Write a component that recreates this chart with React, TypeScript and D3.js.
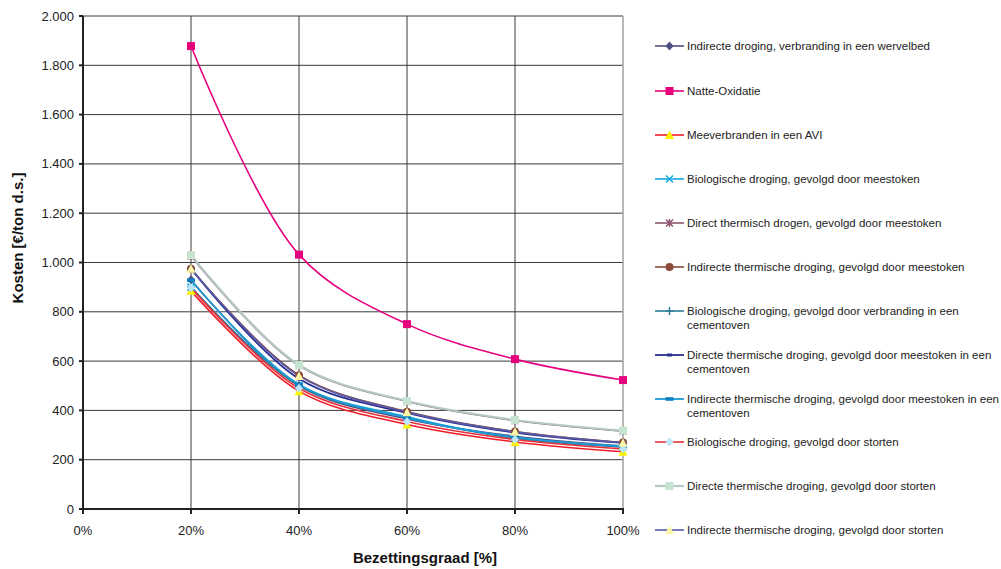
import React from "react";
import * as d3 from "d3";

const xValues = [20, 40, 60, 80, 100];
const xTicks = [0, 20, 40, 60, 80, 100];
const yTicks = [0, 200, 400, 600, 800, 1000, 1200, 1400, 1600, 1800, 2000];

const seriesNames = [
  "Indirecte droging, verbranding in een wervelbed",
  "Natte-Oxidatie",
  "Meeverbranden in een AVI",
  "Biologische droging, gevolgd door meestoken",
  "Direct thermisch drogen, gevolgd door meestoken",
  "Indirecte thermische droging, gevolgd door meestoken",
  "Biologische droging, gevolgd door verbranding in een cementoven",
  "Directe thermische droging, gevolgd door meestoken in een cementoven",
  "Indirecte thermische droging, gevolgd door meestoken in een cementoven",
  "Biologische droging, gevolgd door storten",
  "Directe thermische droging, gevolgd door storten",
  "Indirecte thermische droging, gevolgd door storten",
];

const s1 = [930, 500, 365, 295, 255];
const s2 = [1878, 1032, 750, 608, 523];
const s3 = [885, 478, 343, 272, 232];
const s4 = [900, 503, 374, 288, 253];
const s5 = [1026, 582, 436, 359, 316];
const s6 = [975, 543, 395, 314, 270];
const s7 = [900, 500, 370, 287, 252];
const s8 = [975, 528, 390, 310, 268];
const s9 = [928, 505, 370, 292, 255];
const s10 = [898, 490, 355, 282, 244];
const s11 = [1030, 584, 438, 361, 318];
const s12 = [975, 540, 393, 313, 269];

const seriesValues = [s1, s2, s3, s4, s5, s6, s7, s8, s9, s10, s11, s12];

type Style = { line: string; marker: string; mFill: string; mStroke: string; width: number };
const styles: Style[] = [
  { line: "#4E4E80", marker: "diamond", mFill: "#4E4E80", mStroke: "#4E4E80", width: 1.6 },
  { line: "#E6007E", marker: "square", mFill: "#E6007E", mStroke: "#E6007E", width: 1.6 },
  { line: "#F01E28", marker: "triangle", mFill: "#FFF200", mStroke: "#FFF200", width: 1.6 },
  { line: "#14A8E0", marker: "x", mFill: "none", mStroke: "#14A8E0", width: 1.6 },
  { line: "#8C5670", marker: "star", mFill: "none", mStroke: "#8C5670", width: 1.6 },
  { line: "#8A4B3A", marker: "circle", mFill: "#8A4B3A", mStroke: "#8A4B3A", width: 1.6 },
  { line: "#2E7C9A", marker: "plus", mFill: "none", mStroke: "#2E7C9A", width: 1.6 },
  { line: "#2A2F8F", marker: "dash", mFill: "#2A2F8F", mStroke: "#2A2F8F", width: 1.8 },
  { line: "#1E9BD7", marker: "bar", mFill: "#0E7FC0", mStroke: "#0E7FC0", width: 1.8 },
  { line: "#E8303A", marker: "diamond", mFill: "#BDE6F8", mStroke: "#BDE6F8", width: 1.6 },
  { line: "#B4C8C6", marker: "square", mFill: "#C6E4D0", mStroke: "#C6E4D0", width: 2.2 },
  { line: "#5A5AA8", marker: "triangle", mFill: "#FFF7A8", mStroke: "#FFF7A8", width: 1.6 },
];

function Marker({ kind, x, y, fill, stroke }: { kind: string; x: number; y: number; fill: string; stroke: string }) {
  const r = 4;
  switch (kind) {
    case "diamond":
      return <path d={`M${x},${y - r - 0.5}L${x + r},${y}L${x},${y + r + 0.5}L${x - r},${y}Z`} fill={fill} />;
    case "square":
      return <rect x={x - 4} y={y - 4} width={8} height={8} fill={fill} />;
    case "triangle":
      return <path d={`M${x},${y - 4.5}L${x + 4.5},${y + 4}L${x - 4.5},${y + 4}Z`} fill={fill} />;
    case "circle":
      return <circle cx={x} cy={y} r={4} fill={fill} />;
    case "x":
      return <path d={`M${x - 3.5},${y - 3.5}L${x + 3.5},${y + 3.5}M${x + 3.5},${y - 3.5}L${x - 3.5},${y + 3.5}`} stroke={stroke} strokeWidth={1.5} />;
    case "star":
      return <path d={`M${x - 3.5},${y - 3.5}L${x + 3.5},${y + 3.5}M${x + 3.5},${y - 3.5}L${x - 3.5},${y + 3.5}M${x},${y - 4}L${x},${y + 4}`} stroke={stroke} strokeWidth={1.5} />;
    case "plus":
      return <path d={`M${x},${y - 4}L${x},${y + 4}M${x - 4},${y}L${x + 4},${y}`} stroke={stroke} strokeWidth={1.5} />;
    case "dash":
      return <rect x={x - 2.5} y={y - 1.5} width={5} height={3} fill={fill} />;
    case "bar":
      return <rect x={x - 4} y={y - 1.8} width={8} height={3.6} fill={fill} />;
    default:
      return null;
  }
}

export default function App() {
  const W = 1001, H = 569;
  const left = 83, right = 623, top = 16, bottom = 509;
  const x = d3.scaleLinear().domain([0, 100]).range([left, right]);
  const y = d3.scaleLinear().domain([0, 2000]).range([bottom, top]);
  const line = d3
    .line<number>()
    .x((_, i) => x(xValues[i]))
    .y((d) => y(d))
    .curve(d3.curveCatmullRom.alpha(0.5));

  const legendX1 = 655, legendX2 = 684, legendTextX = 687;
  const legendRows = [46, 91, 135, 179, 223, 267, 311, 355, 399, 442, 486, 530];
  const legendLines: string[][] = [
    ["Indirecte droging, verbranding in een wervelbed"],
    ["Natte-Oxidatie"],
    ["Meeverbranden in een AVI"],
    ["Biologische droging, gevolgd door meestoken"],
    ["Direct thermisch drogen, gevolgd door meestoken"],
    ["Indirecte thermische droging, gevolgd door meestoken"],
    ["Biologische droging, gevolgd door verbranding in een", "cementoven"],
    ["Directe thermische droging, gevolgd door meestoken in een", "cementoven"],
    ["Indirecte thermische droging, gevolgd door meestoken in een", "cementoven"],
    ["Biologische droging, gevolgd door storten"],
    ["Directe thermische droging, gevolgd door storten"],
    ["Indirecte thermische droging, gevolgd door storten"],
  ];

  const font = "'Liberation Sans', Arial, sans-serif";

  return (
    <svg width={W} height={H} style={{ position: "absolute", left: 0, top: 0, background: "#fff" }} fontFamily={font}>
      {/* grid */}
      {yTicks.map((t) => (
        <line key={"gy" + t} x1={left} x2={right} y1={y(t)} y2={y(t)} stroke="#3a3a3a" strokeWidth={1} />
      ))}
      {xTicks.slice(1, -1).map((t) => (
        <line key={"gx" + t} x1={x(t)} x2={x(t)} y1={top} y2={bottom} stroke="#3a3a3a" strokeWidth={1} />
      ))}
      <line x1={right} x2={right} y1={top} y2={bottom} stroke="#a0a0a0" strokeWidth={1.5} />
      {/* series lines */}
      {seriesValues.map((vals, i) => (
        <path key={"l" + i} d={line(vals) || ""} fill="none" stroke={styles[i].line} strokeWidth={styles[i].width} />
      ))}
      {/* markers */}
      {seriesValues.map((vals, i) =>
        vals.map((v, j) => (
          <Marker key={"m" + i + "_" + j} kind={styles[i].marker} x={x(xValues[j])} y={y(v)} fill={styles[i].mFill} stroke={styles[i].mStroke} />
        ))
      )}
      {/* axes */}
      <line x1={left} x2={left} y1={top} y2={bottom + 1} stroke="#222" strokeWidth={2} />
      <line x1={left - 1} x2={right + 1} y1={bottom} y2={bottom} stroke="#222" strokeWidth={2} />
      {yTicks.map((t) => (
        <line key={"ty" + t} x1={left - 4} x2={left} y1={y(t)} y2={y(t)} stroke="#222" strokeWidth={2} />
      ))}
      {xTicks.map((t) => (
        <line key={"tx" + t} x1={x(t)} x2={x(t)} y1={bottom} y2={bottom + 5} stroke="#222" strokeWidth={2} />
      ))}
      {yTicks.map((t) => (
        <text key={"yl" + t} x={left - 9} y={y(t) + 4.5} textAnchor="end" fontSize={13} fill="#222">
          {d3.format(",")(t).replace(",", ".")}
        </text>
      ))}
      {xTicks.map((t) => (
        <text key={"xl" + t} x={x(t)} y={535} textAnchor="middle" fontSize={13} fill="#222">
          {t + "%"}
        </text>
      ))}
      <text x={425} y={563} textAnchor="middle" fontSize={15} fontWeight="bold" fill="#111">
        Bezettingsgraad [%]
      </text>
      <text transform={`translate(23,238) rotate(-90)`} textAnchor="middle" fontSize={15} fontWeight="bold" fill="#111">
        Kosten [€/ton d.s.]
      </text>
      {/* legend */}
      {legendRows.map((ry, i) => (
        <g key={"lg" + i}>
          <line x1={legendX1} x2={legendX2} y1={ry} y2={ry} stroke={styles[i].line} strokeWidth={styles[i].width} />
          <Marker kind={styles[i].marker} x={(legendX1 + legendX2) / 2} y={ry} fill={styles[i].mFill} stroke={styles[i].mStroke} />
          {legendLines[i].map((tx, k) => (
            <text key={k} x={legendTextX} y={ry + 4 + k * 13.5} fontSize={11.5} fill="#222">
              {tx}
            </text>
          ))}
        </g>
      ))}
      <title>{seriesNames.join(", ")}</title>
    </svg>
  );
}
